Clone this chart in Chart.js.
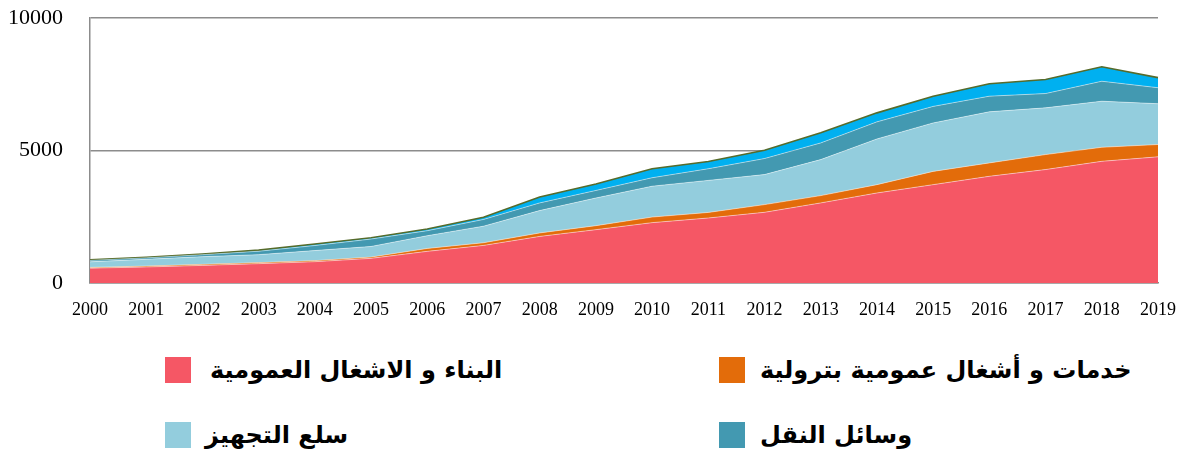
<!DOCTYPE html>
<html>
<head>
<meta charset="utf-8">
<script src="https://cdn.jsdelivr.net/npm/chart.js@4.4.1/dist/chart.umd.min.js"></script>
<style>
  html, body { margin: 0; padding: 0; background: #fff; }
  #wrap { position: relative; width: 1186px; height: 453px; overflow: hidden; }
  #c { position: absolute; left: 0; top: -22px; }
  .item { position: absolute; height: 27px; }
  .box { position: absolute; left: 0; top: 0; width: 26px; height: 26px; }
  .txt { position: absolute; top: -7px; white-space: nowrap; font-family: "DejaVu Sans", sans-serif;
         font-weight: bold; font-size: 24px; color: #000; line-height: 40px; }
</style>
</head>
<body>
<div id="wrap">
  <canvas id="c" width="1192" height="352"></canvas>
  <div id="legend"></div>
</div>
<script>
const years = ['2000','2001','2002','2003','2004','2005','2006','2007','2008','2009',
               '2010','2011','2012','2013','2014','2015','2016','2017','2018','2019'];
const construction = [560, 605, 665, 730, 805, 930, 1195, 1420, 1760, 2015,
                      2280, 2455, 2670, 3025, 3400, 3715, 4030, 4285, 4595, 4765];
const petroleum    = [30, 35, 40, 40, 40, 50, 110, 100, 130, 150,
                      210, 210, 290, 275, 315, 500, 505, 565, 530, 465];
const equipment    = [210, 255, 290, 300, 380, 400, 480, 625, 845, 1045,
                      1165, 1210, 1135, 1360, 1725, 1830, 1930, 1765, 1740, 1540];
const transport    = [55, 55, 75, 130, 190, 280, 190, 255, 290, 285,
                      320, 440, 605, 630, 645, 625, 590, 540, 755, 605];
const others       = [20, 25, 25, 40, 55, 50, 65, 85, 225, 240,
                      340, 275, 315, 380, 340, 380, 470, 530, 545, 380];
const yTicks = [0, 5000, 10000];

const labels = ['البناء و الاشغال العمومية', 'خدمات و أشغال عمومية بترولية', 'سلع التجهيز', 'وسائل النقل', 'أخرى'];
const fills = ['#F55765', '#E36C0A', '#93CDDD', '#4399B1', '#00B0F0'];
const series = [construction, petroleum, equipment, transport, others];

const datasets = series.map((d, i) => ({
  label: labels[i],
  data: d,
  backgroundColor: fills[i],
  borderColor: i === 4 ? '#566b2b' : 'rgba(255,255,255,0.45)',
  borderWidth: i === 4 ? 1.6 : 1,
  fill: i === 0 ? 'origin' : '-1',
  pointRadius: 0,
  tension: 0
}));

new Chart(document.getElementById('c'), {
  type: 'line',
  data: { labels: years, datasets },
  options: {
    responsive: false,
    animation: false,
    layout: { padding: { left: 0, right: 22, top: 18, bottom: 0 } },
    plugins: { legend: { display: false }, tooltip: { enabled: false } },
    scales: {
      x: {
        offset: false,
        grid: { display: false, drawTicks: false },
        border: { display: true, color: '#8c8c8c', width: 1.5 },
        ticks: { color: '#000', padding: 16, maxRotation: 0, autoSkip: false,
                 font: { family: 'Liberation Serif', size: 18 } },
        afterFit: s => { s.height = 47; }
      },
      y: {
        stacked: true,
        min: 0, max: 10000,
        afterBuildTicks: s => { s.ticks = yTicks.map(v => ({ value: v })); },
        grid: { color: '#8c8c8c', lineWidth: 1.5, drawTicks: false },
        border: { display: true, color: '#8c8c8c', width: 1.5 },
        ticks: { color: '#000', padding: 27, font: { family: 'Liberation Serif', size: 22 },
                 callback: v => String(v) },
        afterFit: s => { s.width = 90; }
      }
    }
  }
});

// HTML legend (first four series)
const legendPos = [[165, 357, 210], [719, 357, 760], [165, 422, 205], [719, 422, 760]];
const leg = document.getElementById('legend');
for (let i = 0; i < 4; i++) {
  const it = document.createElement('div');
  it.className = 'item';
  it.style.left = legendPos[i][0] + 'px';
  it.style.top = legendPos[i][1] + 'px';
  const b = document.createElement('div');
  b.className = 'box';
  b.style.background = fills[i];
  const t = document.createElement('span');
  t.className = 'txt';
  t.dir = 'rtl';
  t.style.left = (legendPos[i][2] - legendPos[i][0]) + 'px';
  t.textContent = labels[i];
  it.appendChild(b); it.appendChild(t);
  leg.appendChild(it);
}
</script>
</body>
</html>
